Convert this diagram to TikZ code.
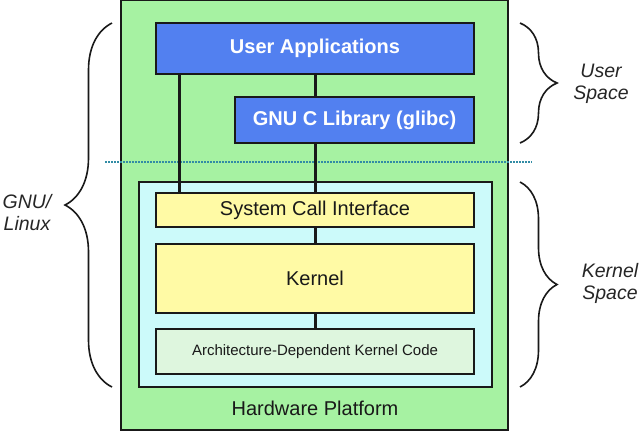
\documentclass[tikz,border=0pt]{standalone}
\usepackage{fontspec}
\setmainfont{Liberation Sans}
\usetikzlibrary{decorations.pathreplacing}
\definecolor{hwgreen}{RGB}{166,242,162}
\definecolor{ublue}{RGB}{82,128,240}
\definecolor{kcyan}{RGB}{204,250,250}
\definecolor{kyellow}{RGB}{255,250,165}
\definecolor{archgreen}{RGB}{222,246,222}
\definecolor{edge}{RGB}{25,25,25}
\definecolor{sepline}{RGB}{50,140,165}
\tikzset{
  box/.style={draw=edge, line width=2pt, rectangle, inner sep=0pt},
  bluebox/.style={box, fill=ublue, text=white, font=\fontsize{20}{22}\selectfont\bfseries},
  yellowbox/.style={box, fill=kyellow, text=black!90, font=\fontsize{20}{22}\selectfont},
  wire/.style={draw=edge, line width=3pt},
  brc/.style={decorate, draw=edge, line width=1.6pt},
  sidelabel/.style={font=\fontsize{19.5}{22}\selectfont\itshape, align=center, text=black!85}
}
\begin{document}
\begin{tikzpicture}[x=1pt,y=-1pt]
\useasboundingbox (0,0) rectangle (640,432);
\fill[white] (0,0) rectangle (640,432);
% hardware platform
\node[box, fill=hwgreen, minimum width=387pt, minimum height=430pt] (hw) at (314.5,215) {};
\node[font=\fontsize{20}{22}\selectfont, text=black!90] (hwl) at (315,408) {Hardware Platform};
% kernel space box
\node[box, fill=kcyan, minimum width=353pt, minimum height=205pt] (ks) at (315.5,284.5) {};
% user space
\node[bluebox, minimum width=318pt, minimum height=51pt] (ua) at (315,48.5) {User Applications};
\node[bluebox, minimum width=239pt, minimum height=46pt] (gl) at (354.5,120) {GNU C Library (glibc)};
% kernel parts
\node[yellowbox, minimum width=318pt, minimum height=34pt] (sci) at (315,210) {System Call Interface};
\node[yellowbox, minimum width=318pt, minimum height=69pt] (kn) at (315,278.5) {Kernel};
\node[box, fill=archgreen, minimum width=318pt, minimum height=45pt, font=\fontsize{15}{17}\selectfont, text=black!90] (arch) at (315,351.5) {Architecture-Dependent Kernel Code};
% separator
\coordinate (sepL) at (105,162);
\coordinate (sepR) at (532,162);
\draw[sepline, line width=1.2pt, dash pattern=on 2pt off 1pt] (sepL) -- (sepR);
% wires
\coordinate (xl) at (179,0);
\draw[wire] (ua.south -| xl) -- (sci.north -| xl);
\draw[wire] (ua.south) -- (ua.south |- gl.north);
\draw[wire] (ua.south |- gl.south) -- (sci.north);
\draw[wire] (sci.south) -- (kn.north);
\draw[wire] (kn.south) -- (arch.north);
% braces
\coordinate (ust) at (520,23);
\coordinate (usb) at (520,143);
\draw[brc, decoration={brace, amplitude=37pt, aspect=0.5}] (ust) -- (usb);
\node[sidelabel] (usl) at (601,84) {User\\Space};
\coordinate (kst) at (520,182);
\coordinate (ksb) at (520,387);
\draw[brc, decoration={brace, amplitude=37pt, aspect=0.5}] (kst) -- (ksb);
\node[sidelabel] (ksl) at (610,283) {Kernel\\Space};
\coordinate (glb) at (112,387);
\coordinate (glt) at (112,23);
\draw[brc, decoration={brace, amplitude=47pt, aspect=0.5}] (glb) -- (glt);
\node[sidelabel] (gll) at (27,213) {GNU/\\Linux};
\end{tikzpicture}
\end{document}
